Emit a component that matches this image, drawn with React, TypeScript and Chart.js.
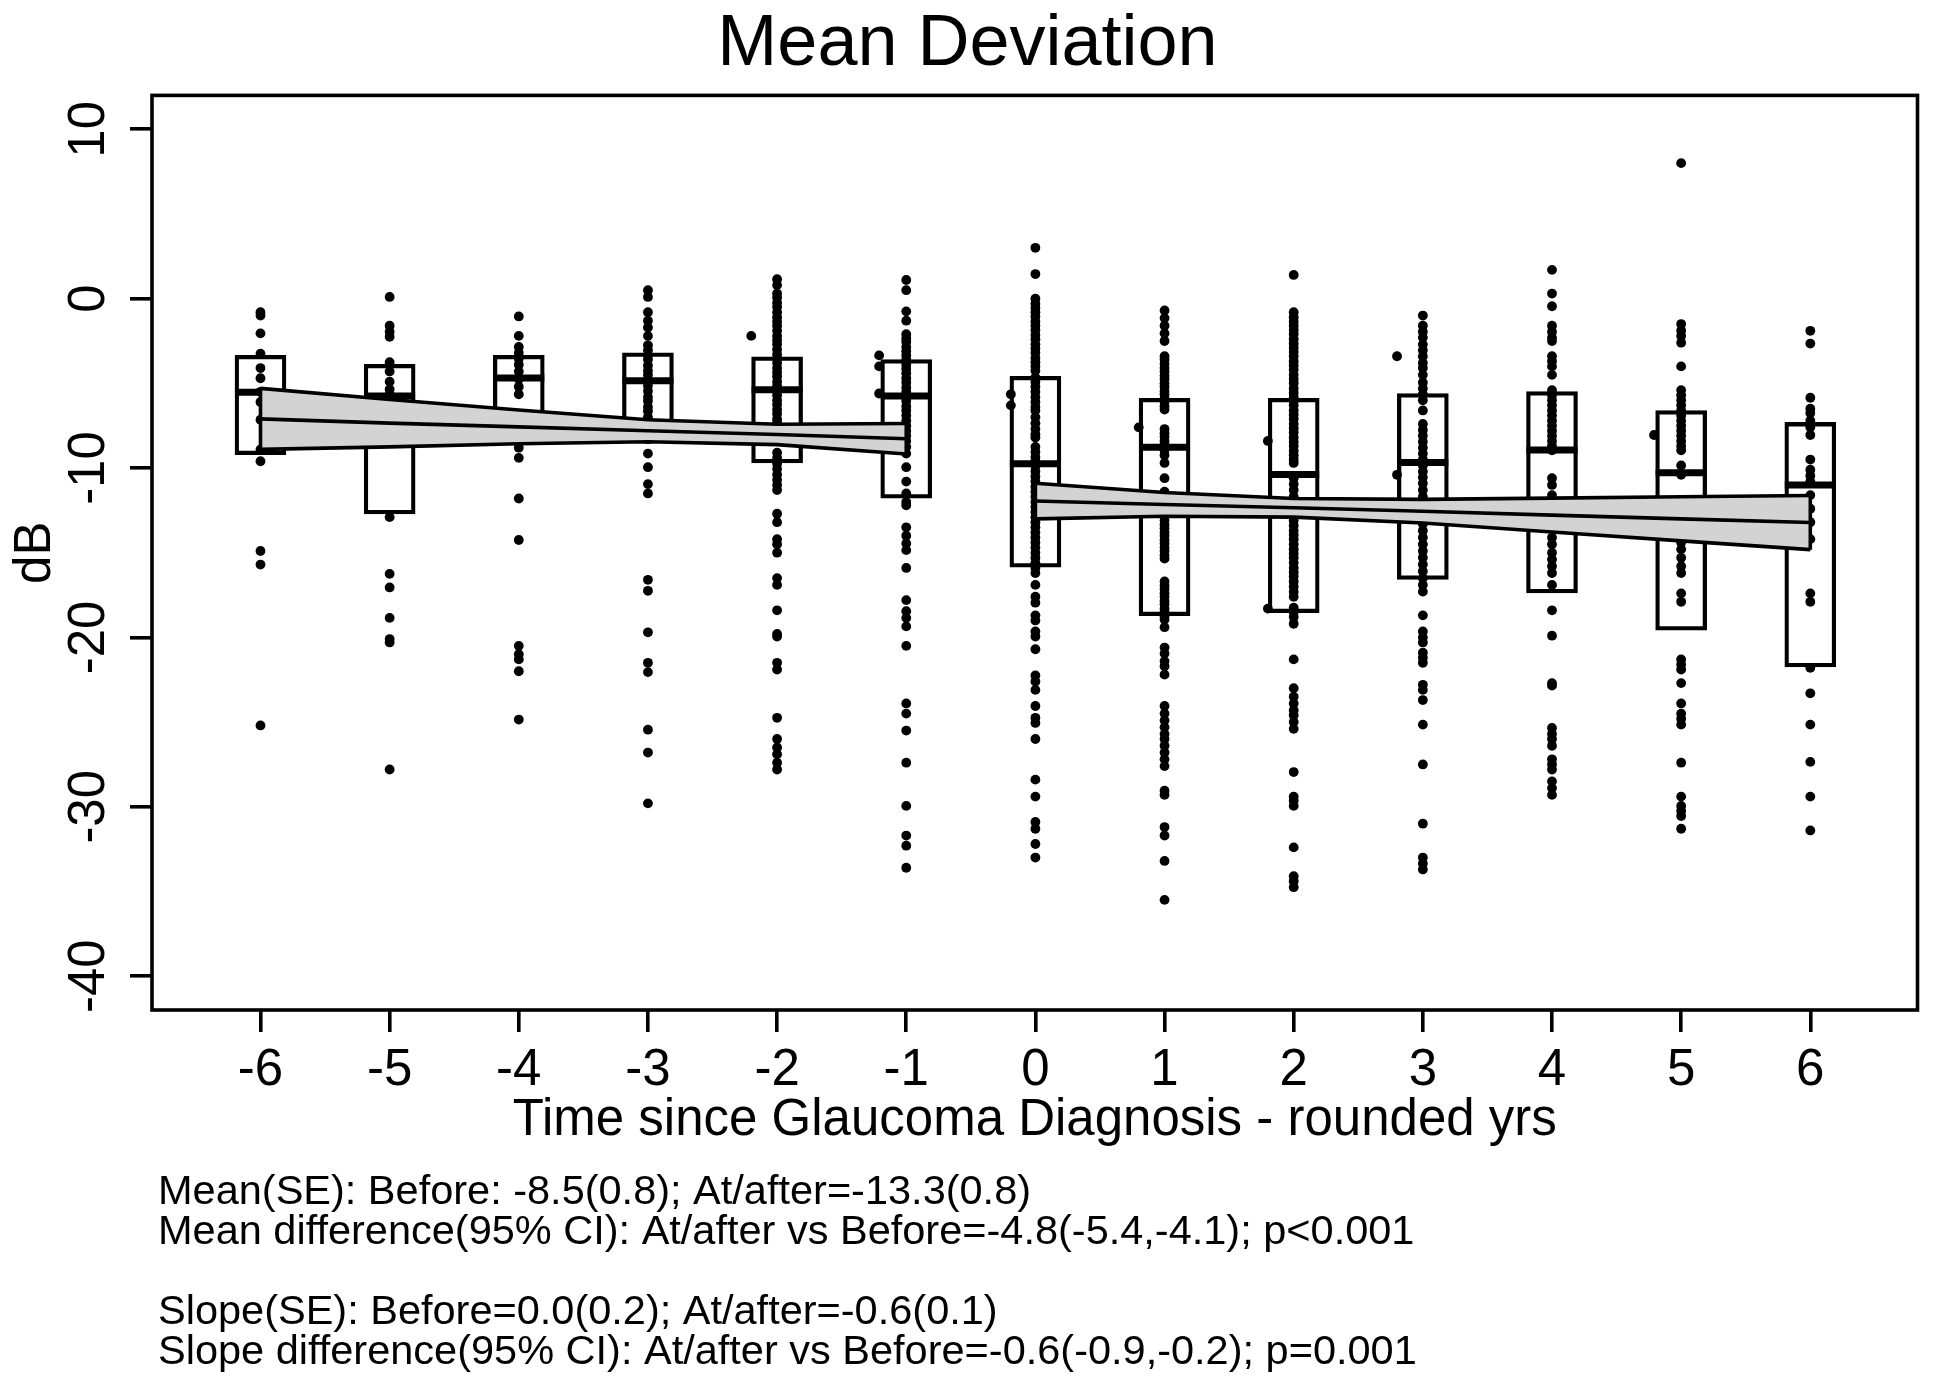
import React, { useEffect, useRef } from 'react';
import { Chart, registerables } from 'chart.js';

Chart.register(...registerables);

const FONT = "'Liberation Sans', Arial, Helvetica, sans-serif";

const TITLE = 'Mean Deviation';
const X_TITLE = 'Time since Glaucoma Diagnosis - rounded yrs';
const Y_TITLE = 'dB';
const NOTE_LINES = [
  'Mean(SE): Before: -8.5(0.8); At/after=-13.3(0.8)',
  'Mean difference(95% CI): At/after vs Before=-4.8(-5.4,-4.1); p<0.001',
  '',
  'Slope(SE): Before=0.0(0.2); At/after=-0.6(0.1)',
  'Slope difference(95% CI): At/after vs Before=-0.6(-0.9,-0.2); p=0.001',
];

// categories (rounded years since diagnosis)
const years = [-6, -5, -4, -3, -2, -1, 0, 1, 2, 3, 4, 5, 6];
const yTickValues = [-40, -30, -20, -10, 0, 10];

// individual MD values per year (dB)
const md_m6 = [-0.8, -1.0, -2.05, -3.25, -4.1, -4.7, -5.5, -6.1, -7.15, -8.9, -9.6, -14.9, -15.7, -25.2];
const md_m5 = [0.1, -1.6, -1.95, -2.25, -3.75, -4.3, -4.9, -5.35, -5.65, -12.9, -16.25, -17.05, -18.85, -20.1, -20.3, -27.8];
const md_m4 = [-1.05, -2.2, -2.85, -3.2, -3.55, -3.9, -4.3, -4.75, -5.2, -5.65, -8.8, -9.4, -11.8, -14.25, -20.5, -21.0, -21.3, -22.0, -24.85];
const md_m3 = [0.5, 0.1, -0.8, -1.3, -1.7, -2.2, -2.75, -3.05, -3.35, -3.6, -3.95, -4.25, -4.5, -4.85, -5.15, -5.45, -5.8, -6.05, -6.4, -6.65, -7.0, -7.6, -8.3, -9.15, -9.95, -10.95, -11.5, -16.6, -17.25, -19.7, -21.5, -22.05, -25.45, -26.8, -29.8];
const md_m2 = [1.15, 0.8, 0.3, 0.05, -0.25, -0.5, -0.8, -1.1, -1.35, -1.6, -1.9, -2.2, -2.45, -2.7, -3.0, -3.3, -3.55, -3.8, -4.1, -4.35, -4.6, -4.9, -5.15, -5.4, -5.7, -6.0, -6.25, -6.55, -6.8, -7.1, -7.3, -7.9, -8.4, -9.1, -9.4, -9.75, -10.05, -10.4, -10.7, -11.0, -11.3, -12.7, -13.2, -14.2, -14.5, -15.0, -16.5, -16.9, -18.4, -19.8, -19.95, -21.5, -21.9, -24.75, -26.0, -26.5, -26.9, -27.4, -27.8];
const md_m1 = [1.1, 0.5, -0.75, -1.3, -2.1, -2.35, -2.55, -2.85, -3.1, -3.35, -3.6, -3.9, -4.15, -4.4, -4.7, -4.95, -5.25, -5.5, -5.8, -6.05, -6.35, -6.6, -6.9, -7.2, -7.5, -7.8, -8.1, -8.4, -8.75, -9.15, -9.95, -10.8, -11.5, -12.0, -12.2, -13.5, -14.0, -14.45, -14.85, -15.9, -17.8, -18.45, -18.85, -19.35, -20.5, -23.9, -24.5, -25.5, -27.4, -29.95, -31.7, -32.3, -33.6];
const md_0 = [3.0, 1.45, 0.0, -0.3, -0.55, -0.8, -1.05, -1.35, -1.6, -1.85, -2.15, -2.4, -2.7, -2.95, -3.2, -3.5, -3.75, -4.0, -4.25, -4.65, -4.9, -5.2, -5.5, -5.8, -6.1, -6.4, -6.6, -7.0, -7.35, -7.7, -8.0, -8.2, -8.75, -9.05, -9.35, -9.6, -9.9, -10.2, -10.5, -10.8, -11.1, -11.4, -11.7, -12.0, -12.3, -12.6, -12.9, -13.2, -13.5, -13.8, -14.1, -14.4, -14.7, -15.0, -15.3, -15.6, -15.9, -16.2, -16.9, -17.6, -17.95, -18.7, -19.0, -19.65, -19.95, -20.7, -22.25, -22.6, -23.1, -24.05, -24.75, -25.05, -26.0, -28.4, -29.4, -30.9, -31.3, -32.2, -33.0];
const md_1 = [-0.7, -1.15, -1.6, -2.05, -2.5, -3.4, -3.6, -3.85, -4.1, -4.3, -4.55, -4.75, -5.0, -5.2, -5.45, -5.65, -5.9, -6.1, -6.35, -6.55, -7.7, -7.95, -8.15, -8.4, -8.6, -8.95, -9.25, -9.7, -10.6, -11.4, -12.3, -13.1, -13.35, -13.55, -13.8, -14.0, -14.25, -14.45, -14.7, -14.9, -15.15, -15.35, -16.7, -16.95, -17.15, -17.4, -17.6, -17.85, -18.05, -18.3, -18.5, -18.75, -18.95, -19.4, -20.6, -20.95, -21.4, -21.7, -22.2, -24.05, -24.5, -24.9, -25.3, -25.7, -26.0, -26.4, -26.8, -27.2, -27.6, -29.05, -29.3, -31.2, -31.7, -33.2, -35.5];
const md_2 = [1.4, -0.8, -1.1, -1.35, -1.6, -1.85, -2.1, -2.4, -2.65, -2.9, -3.15, -3.4, -3.7, -3.95, -4.2, -4.5, -4.75, -5.0, -5.3, -5.55, -5.8, -6.05, -6.3, -6.6, -6.85, -7.1, -7.4, -7.65, -7.9, -8.2, -8.45, -8.7, -9.0, -9.25, -9.5, -9.7, -10.6, -10.95, -11.3, -11.7, -12.4, -13.1, -13.4, -13.7, -13.95, -14.2, -14.5, -14.8, -15.05, -15.3, -15.6, -15.9, -16.15, -16.4, -16.7, -17.0, -17.3, -17.6, -18.25, -18.5, -18.8, -19.2, -21.3, -23.0, -23.5, -23.9, -24.3, -24.6, -25.0, -25.4, -27.95, -29.4, -29.65, -29.95, -32.4, -34.1, -34.4, -34.75];
const md_3 = [-1.0, -1.6, -1.95, -2.3, -2.7, -3.05, -3.4, -3.8, -4.1, -4.5, -4.95, -5.3, -5.65, -6.0, -6.6, -7.4, -7.75, -8.1, -8.45, -8.8, -9.15, -9.5, -9.85, -10.2, -10.55, -10.9, -11.3, -11.7, -12.5, -13.3, -13.7, -14.1, -14.5, -14.9, -15.3, -15.7, -16.1, -16.5, -16.9, -17.3, -18.7, -19.65, -20.0, -20.3, -20.9, -21.2, -21.5, -22.8, -23.1, -23.7, -25.15, -27.5, -31.0, -33.0, -33.35, -33.7];
const md_4 = [1.7, 0.3, -0.45, -1.6, -1.95, -2.3, -2.5, -3.4, -3.7, -4.0, -4.5, -5.4, -5.7, -6.0, -6.3, -6.6, -6.9, -7.2, -7.5, -7.8, -8.1, -8.4, -8.7, -8.95, -10.6, -11.0, -11.6, -12.4, -13.2, -14.1, -14.5, -15.0, -15.4, -15.8, -16.2, -16.9, -18.4, -19.9, -22.7, -22.85, -25.35, -25.7, -26.0, -26.4, -27.2, -27.5, -27.8, -28.5, -28.9, -29.3];
const md_5 = [8.0, -1.5, -1.9, -2.2, -2.6, -4.0, -5.4, -5.7, -6.0, -6.3, -6.6, -6.9, -7.2, -7.5, -7.8, -8.1, -8.4, -8.7, -8.95, -9.85, -10.4, -12.5, -14.4, -14.8, -15.3, -15.8, -16.2, -17.4, -17.9, -21.3, -21.6, -21.9, -22.7, -23.9, -24.5, -24.8, -25.15, -27.4, -29.4, -29.95, -30.25, -30.55, -31.3];
const md_6 = [-1.9, -2.65, -5.85, -6.5, -6.75, -7.2, -7.6, -8.05, -9.5, -10.1, -10.45, -10.8, -11.6, -12.4, -13.2, -14.2, -17.4, -17.9, -21.8, -23.3, -25.15, -27.35, -29.4, -31.4];

const mdByYear = [md_m6, md_m5, md_m4, md_m3, md_m2, md_m1, md_0, md_1, md_2, md_3, md_4, md_5, md_6];

// a few visits plotted slightly off their rounded year
const side_t = [-2.2, -1.21, -1.21, -1.21, -0.19, -0.19, 0.8, 1.8, 1.8, 2.8, 2.8, 4.79];
const side_md = [-2.2, -3.35, -4.0, -5.6, -5.65, -6.3, -7.6, -8.4, -18.3, -3.4, -10.4, -8.05];

// box statistics per year
const boxQ3 = [-3.35, -3.88, -3.35, -3.2, -3.43, -3.6, -4.59, -5.89, -5.89, -5.6, -5.49, -6.61, -7.31];
const boxMed = [-5.53, -5.75, -4.69, -4.85, -5.38, -5.75, -9.75, -8.77, -10.39, -9.67, -8.93, -10.28, -11.0];
const boxQ1 = [-9.21, -12.71, -7.6, -7.9, -9.7, -11.78, -15.86, -18.72, -18.54, -16.58, -17.37, -19.58, -21.75];

// fitted regression lines with 95% CI
const fitX_before = [-6, -5, -4, -3, -2, -1];
const fit_before = [-7.1, -7.35, -7.57, -7.8, -8.02, -8.27];
const upper_before = [-5.3, -5.95, -6.57, -7.15, -7.42, -7.37];
const lower_before = [-8.9, -8.75, -8.57, -8.45, -8.62, -9.17];

const fitX_after = [0, 1, 2, 3, 4, 5, 6];
const fit_after = [-11.95, -12.15, -12.35, -12.55, -12.78, -13.0, -13.22];
const upper_after = [-10.9, -11.45, -11.8, -11.85, -11.78, -11.7, -11.62];
const lower_after = [-13.0, -12.85, -12.9, -13.25, -13.78, -14.3, -14.82];

const BAND_FILL = '#d3d3d3';
const LINE_W = 3.6;

function xy(xs: number[], ys: number[]) {
  return xs.map((x, i) => ({ x, y: ys[i] }));
}

function lineDs(label: string, data: any[], order: number, extra: any = {}) {
  return {
    type: 'line',
    label,
    data,
    borderColor: '#000',
    borderWidth: LINE_W,
    pointRadius: 0,
    tension: 0,
    fill: false,
    order,
    ...extra,
  };
}

const whiteBg = {
  id: 'whiteBg',
  beforeDraw(chart: any) {
    const { ctx, width, height } = chart;
    ctx.save();
    ctx.fillStyle = '#fff';
    ctx.fillRect(0, 0, width, height);
    ctx.restore();
  },
};

const framePlugin = {
  id: 'frame',
  afterDraw(chart: any) {
    const { ctx, chartArea: a } = chart;
    ctx.save();
    ctx.strokeStyle = '#000';
    ctx.lineWidth = LINE_W;
    ctx.strokeRect(a.left, a.top, a.right - a.left, a.bottom - a.top);
    ctx.restore();
  },
};

const notesPlugin = {
  id: 'notes',
  afterDraw(chart: any) {
    const { ctx } = chart;
    ctx.save();
    ctx.fillStyle = '#000';
    ctx.font = `41.5px ${FONT}`;
    ctx.textAlign = 'left';
    ctx.textBaseline = 'alphabetic';
    NOTE_LINES.forEach((line, i) => {
      if (line) ctx.fillText(line, 158, 1203.5 + i * 40);
    });
    ctx.restore();
  },
};

export default function App() {
  const ref = useRef<HTMLCanvasElement | null>(null);

  useEffect(() => {
    const canvas = ref.current;
    if (!canvas) return;
    Chart.defaults.font.family = FONT;

    const points: { x: number; y: number }[] = [];
    years.forEach((t, i) => mdByYear[i].forEach((v) => points.push({ x: t, y: v })));
    side_t.forEach((t, i) => points.push({ x: t, y: side_md[i] }));

    const capAt = (xs: number[], up: number[], lo: number[], i: number) => [
      { x: xs[i], y: up[i] },
      { x: xs[i], y: lo[i] },
    ];

    const chart = new Chart(canvas, {
      type: 'scatter',
      data: {
        datasets: [
          {
            type: 'bar',
            label: 'IQR',
            data: years.map((t, i) => ({ x: t, y: [boxQ1[i], boxQ3[i]] })),
            backgroundColor: 'rgba(0,0,0,0)',
            borderColor: '#000',
            borderWidth: LINE_W,
            borderSkipped: false,
            barThickness: 51,
            order: 4,
          },
          {
            type: 'scatter',
            label: 'Median',
            data: xy(years, boxMed),
            pointStyle: 'line',
            pointRadius: 25.5,
            pointBorderWidth: 7,
            pointBorderColor: '#000',
            pointBackgroundColor: '#000',
            order: 3,
          },
          {
            type: 'scatter',
            label: 'MD',
            data: points,
            pointRadius: 4.9,
            pointBorderWidth: 0,
            pointBackgroundColor: '#000',
            order: 2,
          },
          lineDs('Upper CI before', xy(fitX_before, upper_before), 1, { fill: '+1', backgroundColor: BAND_FILL }),
          lineDs('Lower CI before', xy(fitX_before, lower_before), 0),
          lineDs('Fit before', xy(fitX_before, fit_before), -1),
          lineDs('CI edge before start', capAt(fitX_before, upper_before, lower_before, 0), 0),
          lineDs('CI edge before end', capAt(fitX_before, upper_before, lower_before, fitX_before.length - 1), 0),
          lineDs('Upper CI after', xy(fitX_after, upper_after), 1, { fill: '+1', backgroundColor: BAND_FILL }),
          lineDs('Lower CI after', xy(fitX_after, lower_after), 0),
          lineDs('Fit after', xy(fitX_after, fit_after), -1),
          lineDs('CI edge after start', capAt(fitX_after, upper_after, lower_after, 0), 0),
          lineDs('CI edge after end', capAt(fitX_after, upper_after, lower_after, fitX_after.length - 1), 0),
        ] as any,
      },
      options: {
        responsive: false,
        animation: false,
        devicePixelRatio: 1,
        events: [],
        layout: { padding: { left: 0, right: 15, top: 0, bottom: 231 } },
        plugins: {
          legend: { display: false },
          tooltip: { enabled: false },
          title: {
            display: true,
            text: TITLE,
            color: '#000',
            font: { family: FONT, size: 72, weight: 'normal', lineHeight: 1.2 },
            padding: { top: 2, bottom: 7 },
          },
        },
        scales: {
          x: {
            type: 'linear',
            min: -6.84,
            max: 6.83,
            offset: false,
            afterBuildTicks: (s: any) => {
              s.ticks = years.map((v) => ({ value: v }));
            },
            afterFit: (s: any) => {
              s.height = 146;
            },
            ticks: {
              color: '#000',
              font: { family: FONT, size: 51 },
              padding: 8,
              autoSkip: false,
              maxRotation: 0,
              minRotation: 0,
              callback: (v: any) => String(v),
            },
            grid: {
              display: true,
              drawOnChartArea: false,
              drawTicks: true,
              tickLength: 22,
              tickWidth: LINE_W,
              tickColor: '#000',
              lineWidth: LINE_W,
              color: '#000',
              offset: false,
            },
            border: { display: false },
            title: {
              display: true,
              text: X_TITLE,
              color: '#000',
              font: { family: FONT, size: 51 },
              padding: { top: 0, bottom: 4 },
            },
          },
          y: {
            type: 'linear',
            min: -42,
            max: 12,
            afterBuildTicks: (s: any) => {
              s.ticks = yTickValues.map((v) => ({ value: v }));
            },
            afterFit: (s: any) => {
              s.width = 152;
            },
            ticks: {
              color: '#000',
              font: { family: FONT, size: 51 },
              minRotation: 90,
              maxRotation: 90,
              crossAlign: 'center',
              padding: 3,
              callback: (v: any) => String(v),
            },
            grid: {
              display: true,
              drawOnChartArea: false,
              drawTicks: true,
              tickLength: 22,
              tickWidth: LINE_W,
              tickColor: '#000',
              lineWidth: LINE_W,
              color: '#000',
            },
            border: { display: false },
            title: {
              display: true,
              text: Y_TITLE,
              color: '#000',
              font: { family: FONT, size: 51 },
              padding: { top: 5, bottom: 0 },
            },
          },
        },
      } as any,
      plugins: [whiteBg, framePlugin, notesPlugin],
    });

    return () => chart.destroy();
  }, []);

  return (
    <div style={{ position: 'fixed', left: 0, top: 0, width: 1950, height: 1387, background: '#fff' }}>
      <canvas ref={ref} width={1950} height={1387} style={{ display: 'block', width: 1950, height: 1387 }} />
    </div>
  );
}
